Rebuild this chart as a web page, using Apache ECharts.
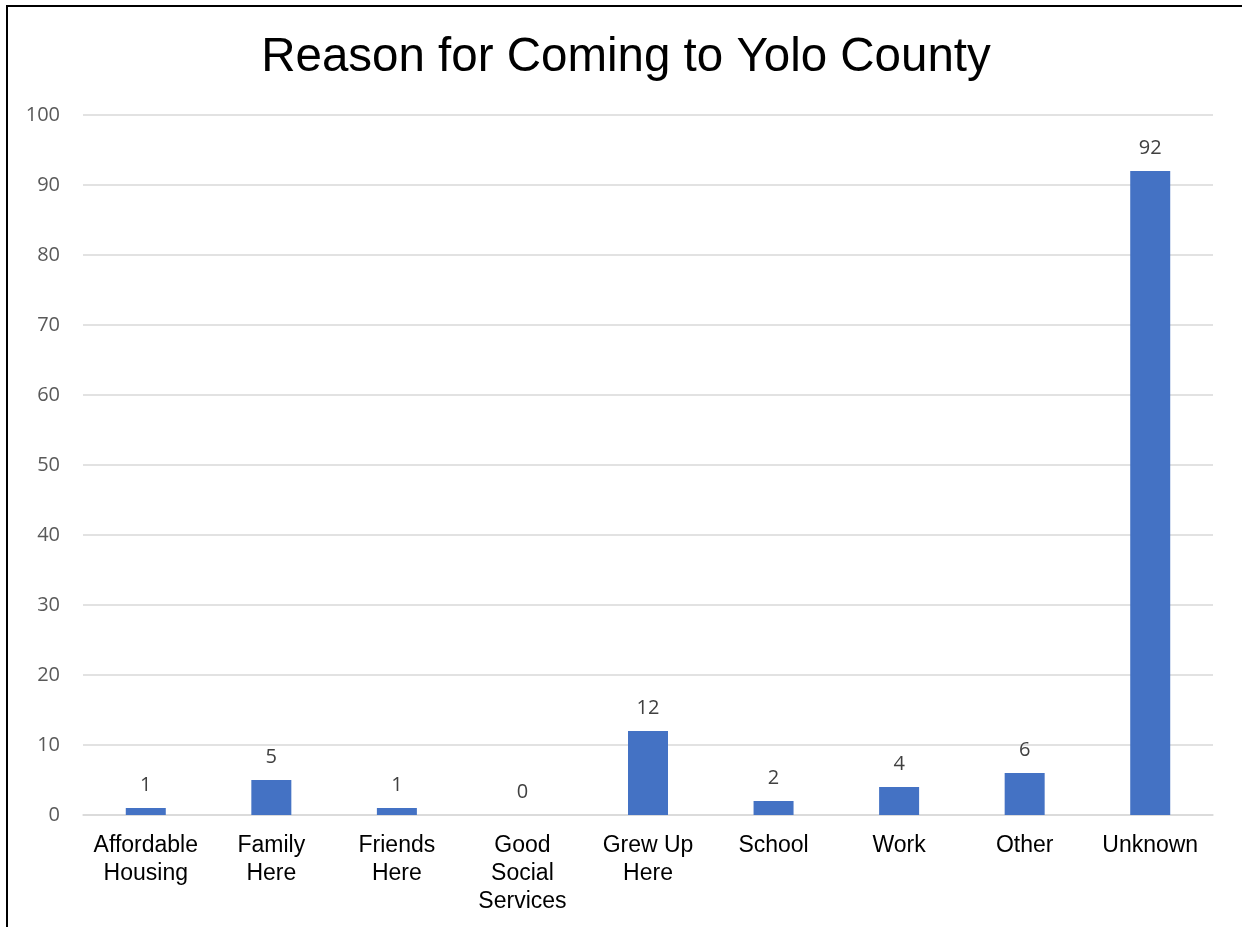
<!DOCTYPE html>
<html>
<head>
<meta charset="utf-8">
<style>
  html, body { margin: 0; padding: 0; background: #fff; }
  #chart { width: 1242px; height: 927px; }
</style>
<script src="https://cdn.jsdelivr.net/npm/echarts@6/dist/echarts.min.js"></script>
</head>
<body>
<div id="chart"></div>
<script>
const categories = [
  'Affordable\nHousing', 'Family\nHere', 'Friends\nHere', 'Good\nSocial\nServices',
  'Grew Up\nHere', 'School', 'Work', 'Other', 'Unknown'
];
const counts = [1, 5, 1, 0, 12, 2, 4, 6, 92];

const chart = echarts.init(document.getElementById('chart'));

const option = {
  backgroundColor: '#fff',
  animation: false,
  title: {
    text: 'Reason for Coming to Yolo County',
    left: 621,
    textAlign: 'center',
    top: 29,
    textStyle: {
      fontFamily: 'Liberation Sans, Arial, sans-serif',
      fontSize: 47.5,
      fontWeight: 'normal',
      color: '#000'
    }
  },
  graphic: [
    {
      type: 'rect',
      shape: { x: 7, y: 6, width: 1400, height: 1100 },
      style: { fill: 'none', stroke: '#000', lineWidth: 2 },
      silent: true
    }
  ],
  grid: {
    left: 83,
    right: 29,
    top: 115,
    bottom: 112,
    containLabel: false
  },
  xAxis: {
    type: 'category',
    data: categories,
    axisLine: { lineStyle: { color: '#d9d9d9', width: 1.5 } },
    axisTick: { show: false },
    axisLabel: {
      interval: 0,
      margin: 17,
      color: '#000',
      fontFamily: 'Liberation Sans, Arial, sans-serif',
      fontSize: 23,
      lineHeight: 28
    }
  },
  yAxis: {
    type: 'value',
    min: 0,
    max: 100,
    interval: 10,
    axisLine: { show: false },
    axisTick: { show: false },
    splitLine: { lineStyle: { color: '#d9d9d9', width: 1.5 } },
    axisLabel: {
      margin: 23,
      color: '#595959',
      fontFamily: 'Open Sans, Noto Sans, sans-serif',
      fontSize: 20
    }
  },
  series: [
    {
      type: 'bar',
      data: counts,
      barWidth: 40,
      itemStyle: { color: '#4472c4' },
      label: {
        show: true,
        position: 'top',
        distance: 13,
        color: '#404040',
        fontFamily: 'Open Sans, Noto Sans, sans-serif',
        fontSize: 20
      }
    }
  ]
};

chart.setOption(option);
</script>
</body>
</html>
